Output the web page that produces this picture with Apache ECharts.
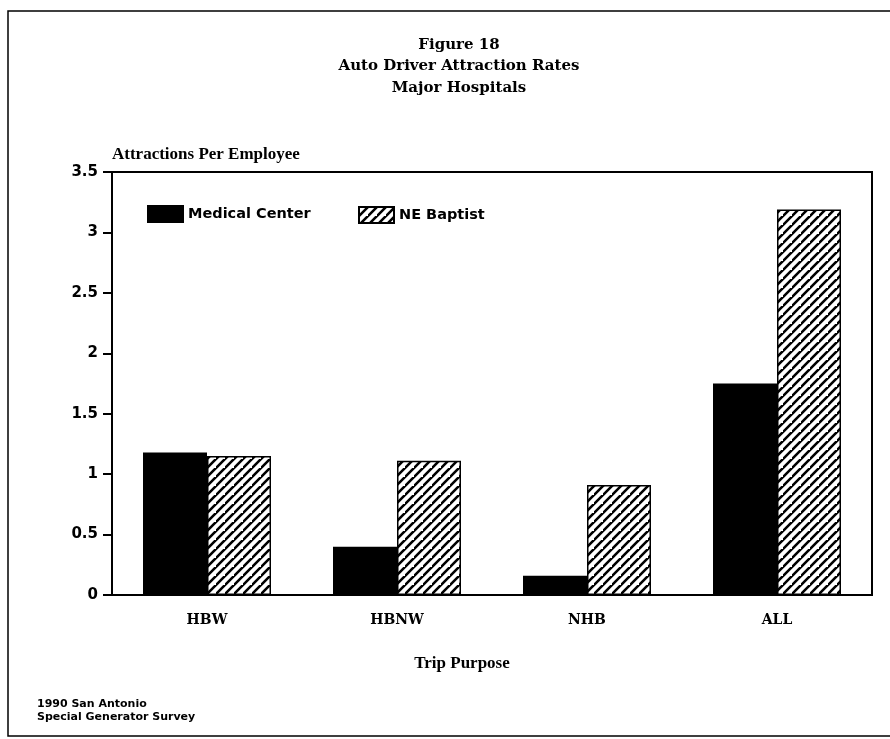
<!DOCTYPE html>
<html>
<head>
<meta charset="utf-8">
<script src="https://cdn.jsdelivr.net/npm/echarts@6/dist/echarts.min.js"></script>
<style>
html,body{margin:0;padding:0;background:#fff;}
#c{width:890px;height:739px;}
</style>
</head>
<body>
<div id="c"></div>
<script>
const categories = ['HBW', 'HBNW', 'NHB', 'ALL'];
const medicalCenter = [1.18, 0.40, 0.16, 1.75];
const neBaptist = [1.15, 1.11, 0.91, 3.19];
const yTicks = [0, 0.5, 1, 1.5, 2, 2.5, 3, 3.5];

function hatch() {
  const s = 9;
  const c = document.createElement('canvas');
  c.width = s; c.height = s;
  const g = c.getContext('2d');
  g.fillStyle = '#fff';
  g.fillRect(0, 0, s, s);
  g.strokeStyle = '#000';
  g.lineWidth = 2.6;
  g.beginPath();
  g.moveTo(-2, s + 2); g.lineTo(s + 2, -2);
  g.moveTo(-2 - s, s + 2); g.lineTo(2, -2);
  g.moveTo(s - 2, 2 * s + 2); g.lineTo(2 * s + 2, s - 2);
  g.stroke();
  return c;
}
const pattern = { image: hatch(), repeat: 'repeat' };

const serif = '"DejaVu Serif", "Liberation Serif", serif';
const lserif = '"Liberation Serif", "DejaVu Serif", serif';
const sans = '"DejaVu Sans", sans-serif';
const legendText = { fontFamily: sans, fontWeight: 'bold', fontSize: 14.5, color: '#000' };
const chart = echarts.init(document.getElementById('c'), null, { renderer: 'canvas' });
chart.setOption({
  backgroundColor: '#fff',
  animation: false,
  title: [
    {
      text: 'Figure 18\nAuto Driver Attraction Rates\nMajor Hospitals',
      left: 454, top: 29, textAlign: 'center',
      textStyle: { fontFamily: serif, fontWeight: 'bold', fontSize: 15, lineHeight: 21.5, color: '#000' }
    },
    {
      text: '1990 San Antonio\nSpecial Generator Survey',
      left: 37, top: 698, padding: 0,
      textStyle: { fontFamily: sans, fontWeight: 'bold', fontSize: 11, lineHeight: 13, color: '#000' }
    }
  ],
  legend: [
    {
      left: 147, top: 205, padding: 0,
      itemWidth: 35, itemHeight: 16, itemGap: 0, icon: 'rect',
      textStyle: legendText,
      data: ['Medical Center']
    },
    {
      left: 358, top: 206, padding: 0,
      itemWidth: 35, itemHeight: 16, itemGap: 0, icon: 'rect',
      textStyle: legendText,
      data: ['NE Baptist']
    }
  ],
  grid: {
    left: 112, right: 18, top: 172, bottom: 144,
    show: true, borderColor: '#000', borderWidth: 2, backgroundColor: 'transparent'
  },
  xAxis: {
    type: 'category',
    data: categories,
    name: 'Trip Purpose',
    nameLocation: 'middle',
    nameGap: 60,
    nameTextStyle: { fontFamily: lserif, fontWeight: 'bold', fontSize: 17, color: '#000', padding: [0, 60, 0, 0] },
    axisLine: { lineStyle: { color: '#000', width: 2 } },
    axisTick: { alignWithLabel: true, length: 8, lineStyle: { color: '#000', width: 2 } },
    axisLabel: { fontFamily: serif, fontWeight: 'bold', fontSize: 14, color: '#000', margin: 18 }
  },
  yAxis: {
    type: 'value',
    min: yTicks[0], max: yTicks[yTicks.length - 1], interval: 0.5,
    name: 'Attractions Per Employee',
    nameLocation: 'end',
    nameGap: 9,
    nameTextStyle: { fontFamily: lserif, fontWeight: 'bold', fontSize: 17, color: '#000', align: 'left', verticalAlign: 'bottom' },
    splitLine: { show: false },
    axisLine: { show: true, lineStyle: { color: '#000', width: 2 } },
    axisTick: { show: true, length: 9, lineStyle: { color: '#000', width: 2 } },
    axisLabel: { fontFamily: sans, fontWeight: 'bold', fontSize: 15, color: '#000', margin: 14 }
  },
  series: [
    {
      name: 'Medical Center', type: 'bar', data: medicalCenter,
      barWidth: 64, barGap: '0%',
      itemStyle: { color: '#000', borderColor: '#000', borderWidth: 1.5 }
    },
    {
      name: 'NE Baptist', type: 'bar', data: neBaptist,
      barWidth: 64,
      itemStyle: { color: pattern, borderColor: '#000', borderWidth: 1.5 }
    }
  ],
  graphic: [
    {
      type: 'polyline', silent: true, z: -1,
      shape: { points: [[890, 11], [8, 11], [8, 736], [890, 736]] },
      style: { fill: 'none', stroke: '#000', lineWidth: 1.5 }
    }
  ]
});
</script>
</body>
</html>
